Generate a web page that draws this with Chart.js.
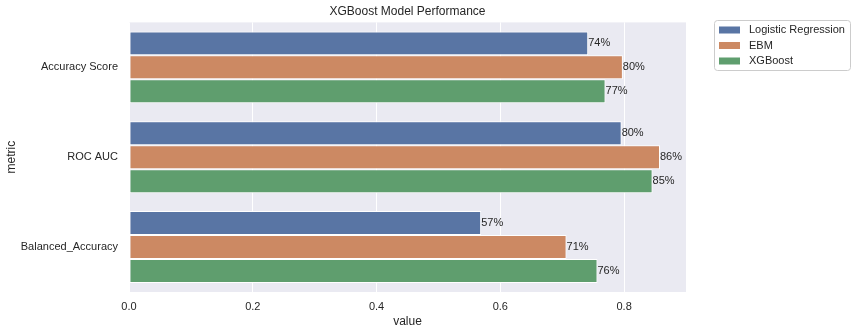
<!DOCTYPE html>
<html>
<head>
<meta charset="utf-8">
<script src="https://cdn.jsdelivr.net/npm/chart.js@4"></script>
<style>
  html, body { margin: 0; padding: 0; background: #fff; }
  #wrap { width: 856px; height: 333px; }
</style>
</head>
<body>
<div id="wrap"><canvas id="chart" width="856" height="333"></canvas></div>
<script>
// data
const metrics = ["Accuracy Score", "ROC AUC", "Balanced_Accuracy"];
const models = ["Logistic Regression", "EBM", "XGBoost"];
const logisticVals = [0.742, 0.796, 0.569];
const ebmVals = [0.798, 0.858, 0.707];
const xgbVals = [0.770, 0.846, 0.757];
const xTicks = [0, 0.2, 0.4, 0.6, 0.8];
const colors = ["#5975a4", "#cc8963", "#5f9e6e"];

const FONT = "'Liberation Sans', Arial, sans-serif";
const TXT = "#262626";

// grey plot background like seaborn darkgrid
const bgPlugin = {
  id: "bg",
  beforeDraw(chart) {
    let a = chart.chartArea, c = chart.ctx;
    c.save();
    c.fillStyle = "#eaeaf2";
    c.fillRect(a.left, a.top, a.right - a.left, a.bottom - a.top);
    c.restore();
  }
};

// percent labels at bar ends
const labelPlugin = {
  id: "barLabels",
  afterDatasetsDraw(chart) {
    let c = chart.ctx;
    c.save();
    c.font = "11px " + FONT;
    c.fillStyle = TXT;
    c.textAlign = "left";
    c.textBaseline = "middle";
    chart.data.datasets.forEach((ds, i) => {
      chart.getDatasetMeta(i).data.forEach((bar, j) => {
        c.fillText(Math.round(ds.data[j] * 100) + "%", bar.x, bar.y);
      });
    });
    c.restore();
  }
};

// legend box outside the plot, top right
const legendPlugin = {
  id: "sideLegend",
  afterDraw(chart) {
    let c = chart.ctx;
    let x = 714.5, y = 20.5, w = 136, h = 50;
    c.save();
    c.fillStyle = "rgba(255,255,255,0.8)";
    c.strokeStyle = "#cccccc";
    c.lineWidth = 1;
    c.beginPath();
    c.roundRect(x, y, w, h, 3);
    c.fill();
    c.stroke();
    c.font = "11px " + FONT;
    c.textBaseline = "middle";
    chart.data.datasets.forEach((ds, i) => {
      let cy = 30 + i * 15.5;
      c.fillStyle = ds.backgroundColor;
      c.fillRect(719, cy - 3.5, 21, 7);
      c.fillStyle = TXT;
      c.fillText(ds.label, 749, cy);
    });
    c.restore();
  }
};

let ctx = document.getElementById("chart").getContext("2d");

let chart = new Chart(ctx, {
  type: "bar",
  data: {
    labels: metrics,
    datasets: [
      { label: models[0], data: logisticVals, backgroundColor: colors[0] },
      { label: models[1], data: ebmVals, backgroundColor: colors[1] },
      { label: models[2], data: xgbVals, backgroundColor: colors[2] }
    ].map(d => Object.assign(d, {
      borderColor: "#ffffff",
      borderWidth: 1,
      borderSkipped: false,
      categoryPercentage: 0.8,
      barPercentage: 1.0
    }))
  },
  options: {
    indexAxis: "y",
    responsive: false,
    animation: false,
    layout: { padding: { left: 0, right: 170, top: 0, bottom: 0 } },
    plugins: {
      legend: { display: false },
      tooltip: { enabled: false },
      title: {
        display: true,
        text: "XGBoost Model Performance",
        fullSize: false,
        color: TXT,
        font: { family: FONT, size: 12, weight: "normal" },
        padding: { top: 4, bottom: 4 }
      }
    },
    scales: {
      x: {
        min: 0,
        max: 0.9,
        afterBuildTicks(scale) {
          scale.ticks = xTicks.map(v => ({ value: v }));
        },
        afterFit(scale) { scale.height = 41; },
        grid: { color: "#ffffff", lineWidth: 1, drawTicks: false },
        border: { display: false },
        ticks: {
          color: TXT,
          padding: 8,
          font: { family: FONT, size: 11 },
          callback: v => v.toFixed(1)
        },
        title: {
          display: true,
          text: "value",
          color: TXT,
          padding: { top: 0, bottom: 4 },
          font: { family: FONT, size: 12 }
        }
      },
      y: {
        afterFit(scale) { scale.width = 129; },
        grid: { display: false, drawTicks: false },
        border: { display: false },
        ticks: {
          color: TXT,
          padding: 11,
          font: { family: FONT, size: 11 }
        },
        title: {
          display: true,
          text: "metric",
          color: TXT,
          padding: { top: 4, bottom: 0 },
          font: { family: FONT, size: 12 }
        }
      }
    }
  },
  plugins: [bgPlugin, labelPlugin, legendPlugin]
});
</script>
</body>
</html>
